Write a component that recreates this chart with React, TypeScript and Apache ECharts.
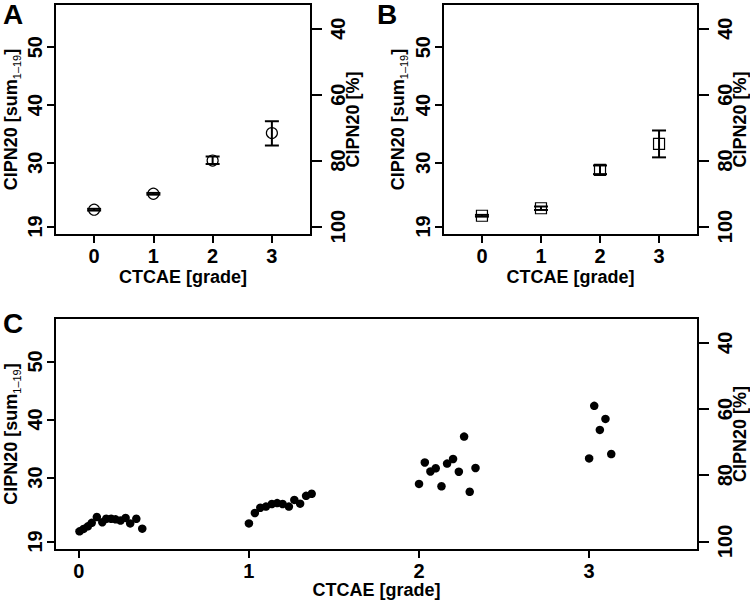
import React, { useEffect, useRef } from 'react';
import * as echarts from 'echarts';

// ---- data ----
const grades = [0, 1, 2, 3];

// Panel A: mean with error bars (open circles)
const meanA = [21.9, 24.65, 30.4, 35.15];
const lowA = [21.75, 24.5, 29.8, 33.0];
const highA = [22.05, 24.8, 31.1, 37.2];

// Panel B: mean with error bars (open squares)
const meanB = [20.85, 22.15, 28.8, 33.3];
const lowB = [20.7, 21.85, 28.05, 30.95];
const highB = [21.0, 22.45, 29.55, 35.6];

// Panel C: individual points per grade
const c0x = [0.004, 0.028, 0.053, 0.076, 0.106, 0.138, 0.161, 0.19, 0.216, 0.245, 0.275, 0.302, 0.338, 0.373];
const c0y = [20.73, 21.15, 21.6, 22.2, 23.2, 22.3, 22.9, 22.9, 22.8, 22.6, 23.05, 22.1, 22.9, 21.2];
const c1x = [1.0, 1.035, 1.067, 1.1, 1.135, 1.166, 1.198, 1.235, 1.267, 1.301, 1.336, 1.369];
const c1y = [22.1, 23.9, 24.8, 25.0, 25.45, 25.6, 25.45, 25.0, 26.15, 25.5, 26.85, 27.2];
const c2x = [2.0, 2.034, 2.067, 2.098, 2.132, 2.165, 2.2, 2.234, 2.265, 2.298, 2.332];
const c2y = [28.9, 32.6, 31.05, 31.6, 28.5, 32.4, 33.2, 31.0, 37.05, 27.55, 31.65];
const c3x = [3.0, 3.03, 3.063, 3.096, 3.13];
const c3y = [33.3, 42.35, 38.2, 40.1, 34.05];

const leftTicks = [19, 30, 40, 50];
const rightTicks = [40, 60, 80, 100];

const FONT = '"Liberation Sans", Arial, Helvetica, sans-serif';
const Y_MIN = 17.52;
const Y_MAX = 57.48;
const pct = (s: number) => 100 - ((s - 19) / 57) * 100;

const gridA = { left: 55, top: 4, width: 256, height: 231 };
const gridB = { left: 443, top: 4, width: 255, height: 231 };
const gridC = { left: 55, top: 318, width: 643, height: 232 };

function xAxisFor(gridIndex: number, min: number, max: number) {
  return {
    type: 'value', gridIndex, min, max,
    splitLine: { show: false },
    axisLine: { show: false, onZero: false },
    axisTick: { show: true, length: 8, lineStyle: { color: '#000', width: 2 }, customValues: grades },
    axisLabel: { customValues: grades, margin: 13, lineHeight: 16, color: '#000', fontSize: 20, fontWeight: 'bold', fontFamily: FONT },
  };
}
function yLeft(gridIndex: number) {
  return {
    type: 'value', gridIndex, position: 'left', min: Y_MIN, max: Y_MAX,
    splitLine: { show: false },
    axisLine: { show: false, onZero: false },
    axisTick: { show: true, length: 8, lineStyle: { color: '#000', width: 2 }, customValues: leftTicks },
    axisLabel: { customValues: leftTicks, rotate: 90, margin: 10, color: '#000', fontSize: 20, fontWeight: 'bold', fontFamily: FONT },
  };
}
function yRight(gridIndex: number) {
  return {
    type: 'value', gridIndex, position: 'right', inverse: true, min: pct(Y_MAX), max: pct(Y_MIN),
    splitLine: { show: false },
    axisLine: { show: false, onZero: false },
    axisTick: { show: true, length: 11, lineStyle: { color: '#000', width: 2 }, customValues: rightTicks },
    axisLabel: { customValues: rightTicks, rotate: 90, margin: 17, color: '#000', fontSize: 20, fontWeight: 'bold', fontFamily: FONT },
  };
}

function errorSeries(xi: number, yi: number, lo: number[], hi: number[]) {
  return {
    type: 'custom', xAxisIndex: xi, yAxisIndex: yi, silent: true,
    encode: { x: 0, y: [1, 2] },
    data: grades.map((g, i) => [g, lo[i], hi[i]]),
    renderItem: (_p: any, api: any) => {
      const x = api.value(0);
      const a = api.coord([x, api.value(1)]);
      const b = api.coord([x, api.value(2)]);
      const w = 7;
      const st = { stroke: '#000', lineWidth: 2 };
      return {
        type: 'group',
        children: [
          { type: 'line', shape: { x1: a[0], y1: a[1], x2: b[0], y2: b[1] }, style: st },
          { type: 'line', shape: { x1: a[0] - w, y1: a[1], x2: a[0] + w, y2: a[1] }, style: st },
          { type: 'line', shape: { x1: b[0] - w, y1: b[1], x2: b[0] + w, y2: b[1] }, style: st },
        ],
      };
    },
  };
}

const titleRich = {
  m: { fontSize: 18, fontWeight: 'bold', fontFamily: FONT, fill: '#000', lineHeight: 22, verticalAlign: 'middle' },
  s: { fontSize: 11, fontFamily: FONT, fill: '#000', lineHeight: 11, verticalAlign: 'bottom' },
};

function leftTitle(x: number, y: number) {
  return {
    type: 'text', x, y, rotation: Math.PI / 2, silent: true,
    style: { text: '{m|CIPN20 [sum}{s|1\u201319}{m|]}', rich: titleRich, align: 'center', verticalAlign: 'middle' },
  };
}
function plainText(x: number, y: number, text: string, size: number, rot = 0, lh?: number) {
  return {
    type: 'text', x, y, rotation: rot, silent: true,
    style: { text, fill: '#000', font: `bold ${size}px ${FONT}`, lineHeight: lh, align: 'center', verticalAlign: 'middle' },
  };
}

export default function App() {
  const ref = useRef<HTMLDivElement>(null);
  useEffect(() => {
    document.body.style.margin = '0';
    const chart = echarts.init(ref.current as HTMLDivElement, null, { renderer: 'svg' });
    const gridStyle = { show: true, borderColor: '#000', borderWidth: 2, backgroundColor: 'transparent', containLabel: false };
    const allC = [
      ...c0x.map((x, i) => [x, c0y[i]]),
      ...c1x.map((x, i) => [x, c1y[i]]),
      ...c2x.map((x, i) => [x, c2y[i]]),
      ...c3x.map((x, i) => [x, c3y[i]]),
    ];
    const option: any = {
      animation: false,
      backgroundColor: '#fff',
      grid: [
        { ...gridStyle, ...gridA },
        { ...gridStyle, ...gridB },
        { ...gridStyle, ...gridC },
      ],
      xAxis: [xAxisFor(0, -0.66, 3.66), xAxisFor(1, -0.66, 3.66), xAxisFor(2, -0.14, 3.64)],
      yAxis: [yLeft(0), yRight(0), yLeft(1), yRight(1), yLeft(2), yRight(2)],
      series: [
        errorSeries(0, 0, lowA, highA),
        {
          type: 'scatter', xAxisIndex: 0, yAxisIndex: 0, silent: true,
          symbol: 'circle', symbolSize: 11,
          itemStyle: { color: 'rgba(0,0,0,0)', borderColor: '#000', borderWidth: 1.2, opacity: 1 },
          data: grades.map((g, i) => [g, meanA[i]]),
        },
        errorSeries(1, 2, lowB, highB),
        {
          type: 'scatter', xAxisIndex: 1, yAxisIndex: 2, silent: true,
          symbol: 'rect', symbolSize: 11,
          itemStyle: { color: 'rgba(0,0,0,0)', borderColor: '#000', borderWidth: 1.2, opacity: 1 },
          data: grades.map((g, i) => [g, meanB[i]]),
        },
        {
          type: 'scatter', xAxisIndex: 2, yAxisIndex: 4, silent: true,
          symbol: 'circle', symbolSize: 8.5,
          itemStyle: { color: '#000', opacity: 1 },
          data: allC,
        },
      ],
      graphic: [
        plainText(13, 14, 'A', 28),
        plainText(387, 14, 'B', 28),
        plainText(13, 323, 'C', 28),
        leftTitle(11, 119.5),
        plainText(353, 119.5, 'CIPN20 [%]', 18, Math.PI / 2),
        plainText(183, 277, 'CTCAE [grade]', 18, 0, 18),
        leftTitle(398, 119.5),
        plainText(740, 119.5, 'CIPN20 [%]', 18, Math.PI / 2),
        plainText(570.5, 277, 'CTCAE [grade]', 18, 0, 18),
        leftTitle(11, 434),
        plainText(740, 434, 'CIPN20 [%]', 18, Math.PI / 2),
        plainText(376.5, 590, 'CTCAE [grade]', 18, 0, 18),
      ],
    };
    chart.setOption(option);
    return () => chart.dispose();
  }, []);
  return <div ref={ref} style={{ width: 750, height: 603 }} />;
}
